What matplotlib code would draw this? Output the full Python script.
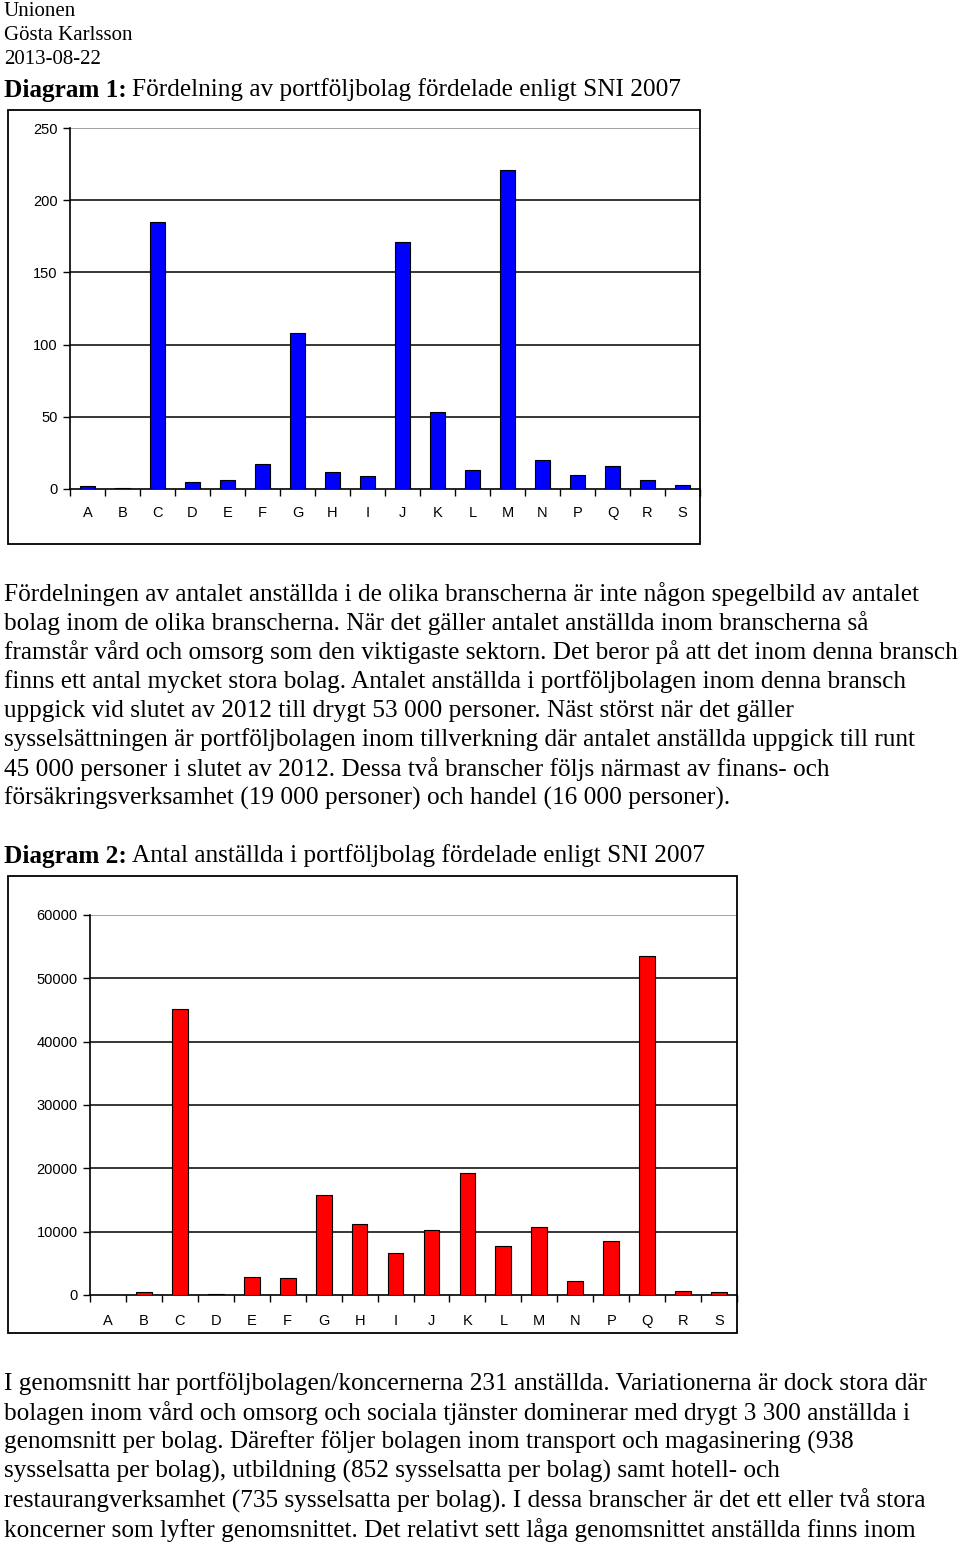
import matplotlib
matplotlib.use("Agg")
import matplotlib.pyplot as plt
from matplotlib.patches import Rectangle

W, H = 960, 1543

# data
sni = ['A', 'B', 'C', 'D', 'E', 'F', 'G', 'H', 'I', 'J', 'K', 'L', 'M', 'N', 'P', 'Q', 'R', 'S']
bolag = [2, 1, 185, 5, 6, 17, 108, 12, 9, 171, 53, 13, 221, 20, 10, 16, 6, 3]
anstallda = [0, 400, 45200, 200, 2900, 2750, 15800, 11200, 6600, 10250, 19300,
             7700, 10800, 2150, 8500, 53500, 600, 400]

header = ['Unionen', 'Gösta Karlsson', '2013-08-22']

para1 = [
    'Fördelningen av antalet anställda i de olika branscherna är inte någon spegelbild av antalet',
    'bolag inom de olika branscherna. När det gäller antalet anställda inom branscherna så',
    'framstår vård och omsorg som den viktigaste sektorn. Det beror på att det inom denna bransch',
    'finns ett antal mycket stora bolag. Antalet anställda i portföljbolagen inom denna bransch',
    'uppgick vid slutet av 2012 till drygt 53 000 personer. Näst störst när det gäller',
    'sysselsättningen är portföljbolagen inom tillverkning där antalet anställda uppgick till runt',
    '45 000 personer i slutet av 2012. Dessa två branscher följs närmast av finans- och',
    'försäkringsverksamhet (19 000 personer) och handel (16 000 personer).',
]
para2 = [
    'I genomsnitt har portföljbolagen/koncernerna 231 anställda. Variationerna är dock stora där',
    'bolagen inom vård och omsorg och sociala tjänster dominerar med drygt 3 300 anställda i',
    'genomsnitt per bolag. Därefter följer bolagen inom transport och magasinering (938',
    'sysselsatta per bolag), utbildning (852 sysselsatta per bolag) samt hotell- och',
    'restaurangverksamhet (735 sysselsatta per bolag). I dessa branscher är det ett eller två stora',
    'koncerner som lyfter genomsnittet. Det relativt sett låga genomsnittet anställda finns inom',
]

SERIF = 'Liberation Serif'
SANS = 'Liberation Sans'
BODY = 18.2

fig = plt.figure(figsize=(W / 100, H / 100), dpi=100)


def txt(x, y, s, size, weight='normal'):
    return fig.text(x / W, 1 - y / H, s, fontsize=size, fontfamily=SERIF,
                    fontweight=weight, ha='left', va='center')


def title(x, y, bold, rest, size):
    t = txt(x, y, bold, size, 'bold')
    fig.canvas.draw()
    bb = t.get_window_extent()
    txt(bb.x1 + 5, y, rest, size)


for i, line in enumerate(header):
    txt(4, 11 + 24 * i, line, 15)

title(4, 90, 'Diagram 1:', 'Fördelning av portföljbolag fördelade enligt SNI 2007', BODY)

for i, line in enumerate(para1):
    txt(4, 594 + 29.2 * i, line, BODY)

title(4, 856, 'Diagram 2:', 'Antal anställda i portföljbolag fördelade enligt SNI 2007', BODY)

for i, line in enumerate(para2):
    txt(4, 1384 + 29.2 * i, line, BODY)


def frame(x0, y0, x1, y1):
    fig.add_artist(Rectangle((x0 / W, 1 - y1 / H), (x1 - x0) / W, (y1 - y0) / H,
                             transform=fig.transFigure, fill=False,
                             edgecolor='black', linewidth=1.3))


def bar_chart(left, right, top, bottom, values, ymax, step, color, width, pad):
    ax = fig.add_axes([left / W, 1 - bottom / H, (right - left) / W, (bottom - top) / H])
    x = list(range(len(sni)))
    ax.bar(x, values, width=width, color=color, edgecolor='black', linewidth=0.8, zorder=3)
    ax.set_xlim(-0.5, len(sni) - 0.5)
    ax.set_ylim(0, ymax)
    ticks = list(range(0, ymax + 1, step))
    ax.set_yticks(ticks)
    ax.set_yticklabels([str(t) for t in ticks], fontfamily=SANS, fontsize=10.5)
    ax.set_xticks(x)
    ax.set_xticklabels(sni, fontfamily=SANS, fontsize=10.5)
    ax.set_xticks([i + 0.5 for i in range(-1, len(sni))], minor=True)
    ax.tick_params(axis='x', which='major', length=0, pad=pad)
    ax.tick_params(axis='x', which='minor', length=5, width=1, direction='out')
    ax.tick_params(axis='y', length=5, width=1, direction='out', pad=4)
    for t in ticks[1:]:
        ax.axhline(t, color='#888888' if t == ymax else 'black', linewidth=1.1, zorder=1)
    for s in ['top', 'right']:
        ax.spines[s].set_visible(False)
    for s in ['left', 'bottom']:
        ax.spines[s].set_linewidth(1.2)
    ax.set_facecolor('none')
    return ax


frame(8, 110, 700, 544)
bar_chart(70, 700, 128, 489, bolag, 250, 50, '#0000ff', 0.42, 12)

frame(8, 876, 737, 1333)
bar_chart(90, 737, 915, 1295, anstallda, 60000, 10000, '#ff0000', 0.44, 14)

fig.savefig('out.png', dpi=100)
